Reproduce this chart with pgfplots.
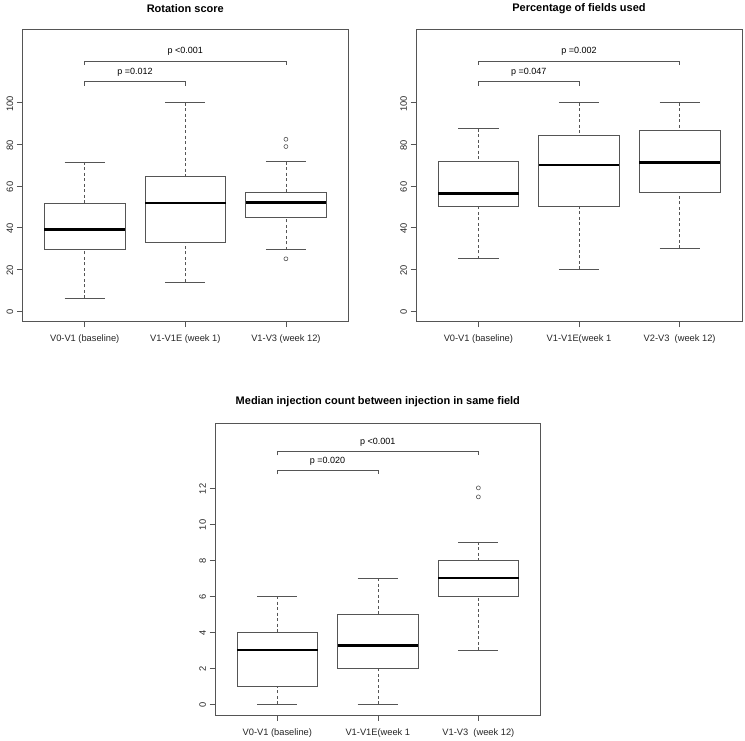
\documentclass[border=0pt]{standalone}
\usepackage{pgfplots}
\pgfplotsset{compat=1.18}
\usepgfplotslibrary{statistics}
\usepackage{fontspec}
\setmainfont{Liberation Sans}
\definecolor{lc}{HTML}{555555}
\pgfplotsset{
  boxplot/draw/lower whisker/.code={%
    \draw[dash pattern=on 3pt off 2.5pt] (boxplot box cs:\pgfplotsboxplotvalue{lower whisker},0.5) -- (boxplot box cs:\pgfplotsboxplotvalue{lower quartile},0.5);
    \draw[solid] (boxplot whisker cs:\pgfplotsboxplotvalue{lower whisker},0) -- (boxplot whisker cs:\pgfplotsboxplotvalue{lower whisker},1);
  },
  boxplot/draw/upper whisker/.code={%
    \draw[dash pattern=on 3pt off 2.5pt] (boxplot box cs:\pgfplotsboxplotvalue{upper whisker},0.5) -- (boxplot box cs:\pgfplotsboxplotvalue{upper quartile},0.5);
    \draw[solid] (boxplot whisker cs:\pgfplotsboxplotvalue{upper whisker},0) -- (boxplot whisker cs:\pgfplotsboxplotvalue{upper whisker},1);
  },
  boxplot/draw/median/.code={%
    \draw[black, line width=2.7pt] (boxplot box cs:\pgfplotsboxplotvalue{median},0) -- (boxplot box cs:\pgfplotsboxplotvalue{median},1);
  },
  rbox/.style={
    scale only axis, width=326pt, height=292.4pt,
    xmin=0.38, xmax=3.62,
    axis line style={lc, line width=0.7pt},
    tick style={lc, line width=0.7pt},
    tick align=outside, major tick length=5.5pt,
    xtick pos=bottom, ytick pos=left,
    xtick={1,2,3},
    ticklabel style={font=\fontsize{9.3}{11}\selectfont, text=black!85},
    xticklabel style={yshift=-4.5pt},
    /pgf/number format/assume math mode=true,
    yticklabel style={rotate=90, anchor=south, xshift=-1pt},
    title style={font=\fontsize{11}{13}\selectfont\bfseries, at={(0.5,1)}, anchor=center, yshift=15pt},
    clip=false,
  },
  rbp/.style={
    lc, line width=0.7pt, solid, mark=o, mark size=2pt,
    mark options={solid, lc, line width=0.6pt},
    boxplot/draw direction=y,
    boxplot prepared={#1, box extend=0.8, whisker extend=0.4},
  },
  brk/.style={lc, line width=0.7pt, mark=none},
}
\newcommand{\pfont}{\fontsize{9}{11}\selectfont}
\begin{document}
\begin{tikzpicture}
\path[use as bounding box] (0,0) rectangle (745pt,740pt);

% Panel 1
\begin{axis}[rbox, at={(22.3pt,418.3pt)}, anchor=south west,
  ymin=-5.2, ymax=135.2, ytick={0,20,40,60,80,100},
  xticklabels={V0-V1 (baseline), V1-V1E (week 1), V1-V3 (week 12)},
  title={Rotation score}]
\addplot[rbp={draw position=1, lower whisker=6, lower quartile=29.6, median=39.2, upper quartile=51.7, upper whisker=71.5}] coordinates {};
\addplot[rbp={draw position=2, lower whisker=13.9, lower quartile=33, median=51.8, upper quartile=64.8, upper whisker=100}] coordinates {};
\addplot[rbp={draw position=3, lower whisker=29.3, lower quartile=45.1, median=52.2, upper quartile=57, upper whisker=71.7}] table[row sep=\\, y index=0] {y\\82.4\\78.9\\25\\};
\addplot[brk] coordinates {(1,108) (1,110) (2,110) (2,108)};
\addplot[brk] coordinates {(1,118) (1,120) (3,120) (3,118)};
\node[font=\pfont] at (axis cs:1.5,114.4) {p =0.012};
\node[font=\pfont] at (axis cs:2,124.5) {p <0.001};
\end{axis}

% Panel 2
\begin{axis}[rbox, at={(416pt,418.3pt)}, anchor=south west,
  ymin=-5.2, ymax=135.2, ytick={0,20,40,60,80,100},
  xticklabels={V0-V1 (baseline), V1-V1E(week 1, V2-V3~~(week 12)},
  title={Percentage of fields used}]
\addplot[rbp={draw position=1, lower whisker=25, lower quartile=50, median=56.3, upper quartile=72, upper whisker=87.5}] coordinates {};
\addplot[rbp={draw position=2, lower whisker=20, lower quartile=50, median=70, upper quartile=84.5, upper whisker=100}] coordinates {};
\addplot[rbp={draw position=3, lower whisker=30, lower quartile=57.1, median=71.4, upper quartile=86.6, upper whisker=100}] coordinates {};
\addplot[brk] coordinates {(1,108) (1,110) (2,110) (2,108)};
\addplot[brk] coordinates {(1,118) (1,120) (3,120) (3,118)};
\node[font=\pfont] at (axis cs:1.5,114.4) {p =0.047};
\node[font=\pfont] at (axis cs:2,124.5) {p =0.002};
\end{axis}

% Panel 3
\begin{axis}[rbox, at={(215pt,25pt)}, anchor=south west, width=325.7pt, height=292pt,
  ymin=-0.6, ymax=15.6, ytick={0,2,4,6,8,10,12},
  xticklabels={V0-V1 (baseline), V1-V1E(week 1, V1-V3~~(week 12)},
  title={Median injection count between injection in same field}]
\addplot[rbp={draw position=1, lower whisker=0, lower quartile=1, median=3, upper quartile=4, upper whisker=6}] coordinates {};
\addplot[rbp={draw position=2, lower whisker=0, lower quartile=2, median=3.25, upper quartile=5, upper whisker=7}] coordinates {};
\addplot[rbp={draw position=3, lower whisker=3, lower quartile=6, median=7, upper quartile=8, upper whisker=9}] table[row sep=\\, y index=0] {y\\12\\11.5\\};
\addplot[brk] coordinates {(1,12.75) (1,13) (2,13) (2,12.75)};
\addplot[brk] coordinates {(1,13.8) (1,14) (3,14) (3,13.8)};
\node[font=\pfont] at (axis cs:1.5,13.5) {p =0.020};
\node[font=\pfont] at (axis cs:2,14.55) {p <0.001};
\end{axis}
\end{tikzpicture}
\end{document}
